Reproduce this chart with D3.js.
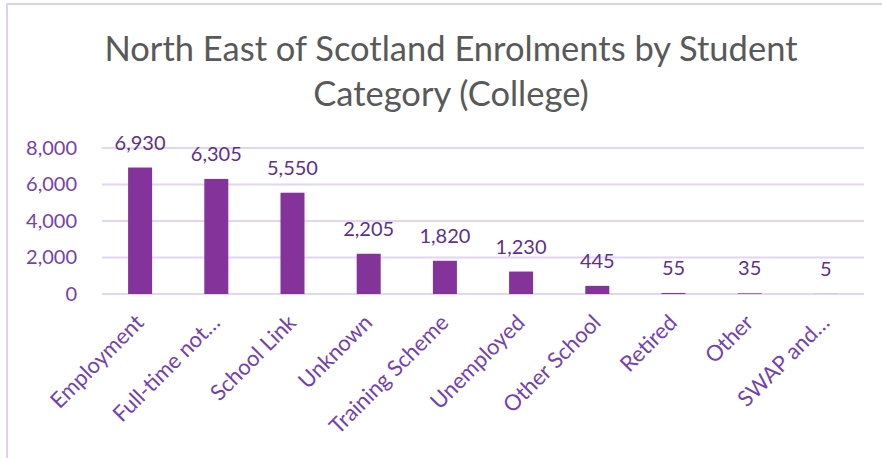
<!DOCTYPE html>
<html>
<head>
<meta charset="utf-8">
<script src="https://cdn.jsdelivr.net/npm/d3@7"></script>
<style>
  html, body { margin: 0; padding: 0; background: #fff; }
  svg { display: block; }
</style>
</head>
<body>
<svg id="chart" width="882" height="458"></svg>
<script>
// Enrolments by student category
const categories = ["Employment", "Full-time not…", "School Link", "Unknown", "Training Scheme",
                    "Unemployed", "Other School", "Retired", "Other", "SWAP and…"];
const enrolments = [6930, 6305, 5550, 2205, 1820, 1230, 445, 55, 35, 5];
const yTicks = [0, 2000, 4000, 6000, 8000];
const titleLines = ["North East of Scotland Enrolments by Student", "Category (College)"];

const W = 882, H = 458;
const margin = { left: 102, right: 18, top: 148, bottom: 164 };
const svg = d3.select("#chart");
const font = "Lato, 'Open Sans', sans-serif";

// chart frame
svg.append("rect")
  .attr("x", 7).attr("y", 4).attr("width", 1000).attr("height", 600)
  .attr("fill", "none").attr("stroke", "#DDD1EF").attr("stroke-width", 2);

// title
const title = svg.append("text")
  .attr("text-anchor", "middle")
  .attr("font-family", font)
  .attr("font-size", 34.5)
  .attr("fill", "#595959");
titleLines.forEach((t, i) => {
  title.append("tspan").attr("x", 451).attr("y", 61 + i * 45).text(t);
});

const x = d3.scaleBand()
  .domain(categories)
  .range([margin.left, W - margin.right])
  .paddingInner(0.685).paddingOuter(0.3425);

const y = d3.scaleLinear()
  .domain([0, 8000])
  .range([H - margin.bottom, margin.top]);

// gridlines
svg.append("g")
  .selectAll("line")
  .data(yTicks)
  .join("line")
  .attr("x1", margin.left).attr("x2", W - margin.right)
  .attr("y1", d => y(d)).attr("y2", d => y(d))
  .attr("stroke", "#E2D6F2").attr("stroke-width", 2);

// y axis labels
const yAxis = svg.append("g")
  .attr("transform", `translate(${margin.left},0)`)
  .call(d3.axisLeft(y).tickValues(yTicks).tickFormat(d3.format(",")).tickSize(0).tickPadding(25));
yAxis.select(".domain").remove();
yAxis.selectAll("text")
  .attr("font-family", font).attr("font-size", 20).attr("fill", "#7442AE");

// bars
svg.append("g")
  .selectAll("rect")
  .data(enrolments)
  .join("rect")
  .attr("x", (d, i) => x(categories[i]))
  .attr("width", x.bandwidth())
  .attr("y", d => y(d))
  .attr("height", d => y(0) - y(d))
  .attr("fill", "#84339A");

// value labels
svg.append("g")
  .selectAll("text")
  .data(enrolments)
  .join("text")
  .attr("x", (d, i) => x(categories[i]) + x.bandwidth() / 2)
  .attr("y", d => y(d) - 18)
  .attr("text-anchor", "middle")
  .attr("font-family", font).attr("font-size", 20)
  .attr("fill", "#5E2F8F")
  .text(d3.format(","));

// category axis
const xAxis = svg.append("g")
  .attr("transform", `translate(0,${y(0)})`)
  .call(d3.axisBottom(x).tickSize(0).tickPadding(0));
xAxis.select(".domain").remove();
xAxis.selectAll("text")
  .attr("font-family", font).attr("font-size", 22).attr("fill", "#7442AE")
  .attr("text-anchor", "end")
  .attr("dy", 0)
  .attr("transform", "translate(5,30) rotate(-45)");
</script>
</body>
</html>
